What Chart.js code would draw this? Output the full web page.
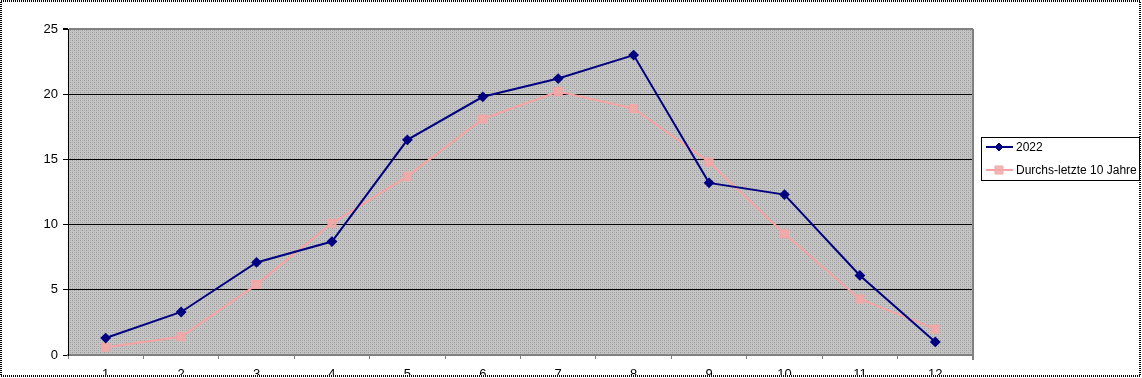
<!DOCTYPE html>
<html>
<head>
<meta charset="utf-8">
<script src="https://cdn.jsdelivr.net/npm/chart.js@4/dist/chart.umd.min.js"></script>
<style>
  html, body { margin: 0; padding: 0; background: #ffffff; }
  #wrap { position: relative; width: 1142px; height: 378px; overflow: hidden; }
</style>
</head>
<body>
<div id="wrap"><canvas id="chart" width="1142" height="378"></canvas></div>
<script>
const months = ['1', '2', '3', '4', '5', '6', '7', '8', '9', '10', '11', '12'];
const values2022 = [1.3, 3.3, 7.1, 8.7, 16.5, 19.8, 21.2, 23.0, 13.2, 12.3, 6.1, 1.0];
const valuesAvg10 = [0.6, 1.4, 5.4, 10.1, 13.7, 18.1, 20.2, 18.9, 14.8, 9.3, 4.3, 2.0];
const seriesNames = ['2022', 'Durchs-letzte 10 Jahre'];

const FONT = '"Liberation Sans", Arial, sans-serif';

// gray dithered plot background like the old Excel fill
function makePattern(ctx) {
  const p = document.createElement('canvas');
  p.width = 4; p.height = 4;
  const pc = p.getContext('2d');
  pc.fillStyle = '#c4c4c4';
  pc.fillRect(0, 0, 4, 4);
  pc.fillStyle = '#9a9a9a';
  pc.fillRect(0, 0, 1, 1);
  pc.fillRect(2, 2, 1, 1);
  pc.fillStyle = '#b0b0b0';
  pc.fillRect(2, 0, 1, 1);
  pc.fillRect(0, 2, 1, 1);
  return ctx.createPattern(p, 'repeat');
}

const frame = {
  id: 'frame',
  beforeDraw(chart) {
    const { ctx, chartArea: a } = chart;
    ctx.save();
    ctx.fillStyle = makePattern(ctx);
    ctx.fillRect(a.left, a.top, a.right - a.left, a.bottom - a.top);
    ctx.restore();
  },
  afterDatasetsDraw(chart) {
    const { ctx, chartArea: a } = chart;
    ctx.save();
    // right border of the plot area
    ctx.strokeStyle = '#808080';
    ctx.lineWidth = 2;
    ctx.beginPath();
    ctx.moveTo(a.right, a.top);
    ctx.lineTo(a.right, a.bottom + 5);
    ctx.stroke();
    ctx.restore();
  },
  afterDraw(chart) {
    const { ctx } = chart;
    ctx.save();
    // legend box
    const lx = 981, ly = 137, lw = 158, lh = 43;
    ctx.fillStyle = '#ffffff';
    ctx.fillRect(lx, ly, lw, lh);
    ctx.strokeStyle = '#000000';
    ctx.lineWidth = 1;
    ctx.strokeRect(lx + 0.5, ly + 0.5, lw, lh);
    chart.data.datasets.forEach((ds, i) => {
      const y = ly + 10 + i * 23;
      ctx.strokeStyle = ds.borderColor;
      ctx.lineWidth = 2;
      ctx.beginPath();
      ctx.moveTo(lx + 5, y);
      ctx.lineTo(lx + 32, y);
      ctx.stroke();
      const cx = lx + 18;
      ctx.fillStyle = ds.pointBackgroundColor;
      ctx.strokeStyle = ds.pointBorderColor;
      ctx.lineWidth = 1;
      ctx.beginPath();
      if (ds.pointStyle === 'rectRot') {
        ctx.moveTo(cx, y - 4); ctx.lineTo(cx + 4, y); ctx.lineTo(cx, y + 4); ctx.lineTo(cx - 4, y); ctx.closePath();
      } else {
        ctx.rect(cx - 4, y - 4, 8, 8);
      }
      ctx.fill();
      ctx.stroke();
      ctx.fillStyle = '#000000';
      ctx.font = '12px ' + FONT;
      ctx.textBaseline = 'middle';
      ctx.fillText(ds.label, lx + 35, y + 1);
    });
    // the picture is cut off just under the category labels
    ctx.fillStyle = '#ffffff';
    ctx.fillRect(0, 375, 1142, 3);
    // dotted outer border of the picture
    ctx.strokeStyle = '#000000';
    ctx.lineWidth = 2;
    ctx.setLineDash([1, 1]);
    ctx.strokeRect(1, 1, 1139, 375);
    ctx.restore();
  }
};

new Chart(document.getElementById('chart'), {
  type: 'line',
  data: {
    labels: months,
    datasets: [
      {
        label: seriesNames[0],
        data: values2022,
        borderColor: '#000080',
        borderWidth: 2,
        pointStyle: 'rectRot',
        pointRadius: 4,
        pointBackgroundColor: '#000080',
        pointBorderColor: '#000080',
        tension: 0,
        fill: false,
      },
      {
        label: seriesNames[1],
        data: valuesAvg10,
        borderColor: '#f7a3a3',
        borderWidth: 2,
        pointStyle: 'rect',
        pointRadius: 5,
        pointBackgroundColor: 'rgba(240, 170, 170, 0.85)',
        pointBorderColor: '#f4a6a6',
        tension: 0,
        fill: false,
      }
    ]
  },
  options: {
    responsive: false,
    animation: false,
    layout: { padding: { top: 29, right: 169, bottom: 0, left: 0 } },
    plugins: {
      legend: { display: false },
      tooltip: { enabled: false },
    },
    scales: {
      x: {
        offset: true,
        afterFit: (scale) => { scale.height = 23; },
        grid: {
          offset: true,
          drawOnChartArea: false,
          tickLength: 4,
          tickColor: '#808080',
        },
        border: { color: '#808080', width: 2 },
        ticks: {
          color: '#000000',
          font: { family: FONT, size: 13 },
          padding: 8,
          maxRotation: 0,
        },
      },
      y: {
        min: 0,
        max: 25,
        afterFit: (scale) => { scale.width = 68; },
        grid: {
          color: (c) => c.tick.value === 0 ? 'rgba(0,0,0,0)' : (c.tick.value === 25 ? '#808080' : '#000000'),
          lineWidth: (c) => c.tick.value === 25 ? 2 : 1,
          tickLength: 5,
          tickColor: '#000000',
        },
        border: { color: '#000000', width: 1 },
        ticks: {
          stepSize: 5,
          color: '#000000',
          font: { family: FONT, size: 13 },
          padding: 5,
        },
      },
    },
  },
  plugins: [frame],
});
</script>
</body>
</html>
